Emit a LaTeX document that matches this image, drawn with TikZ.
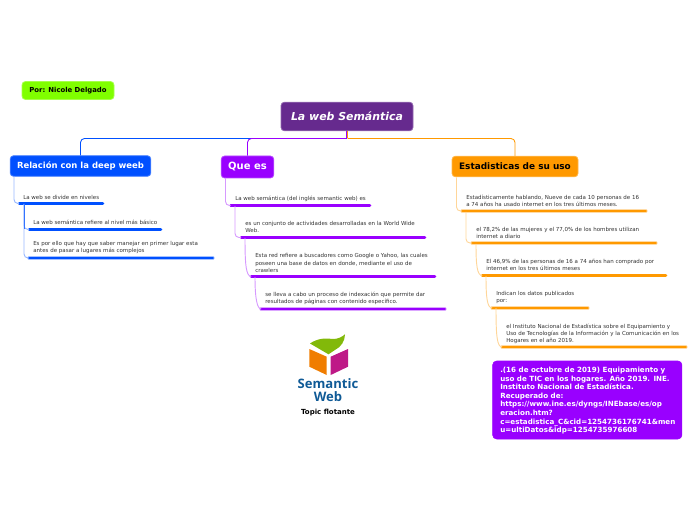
\documentclass[tikz,border=0pt]{standalone}
\usepackage{fontspec}
\setmainfont{DejaVu Sans}
\newfontfamily\logofont{Open Sans}
\definecolor{cRoot}{HTML}{662A8E}
\definecolor{cBlue}{HTML}{0050FF}
\definecolor{cPurple}{HTML}{9900FF}
\definecolor{cOrange}{HTML}{FF9900}
\definecolor{cGreen}{HTML}{80FF00}
\definecolor{cTxt}{HTML}{333333}
\tikzset{
  topicbox/.style={draw=#1!70!white,fill=#1,line width=0.6pt,rounded corners=2.6pt,inner sep=0pt,font=\bfseries},
  smalltext/.style={anchor=west,inner sep=0pt,align=left,text=cTxt,font=\fontsize{4.13}{5.3}\selectfont},
  branch/.style={draw=#1,line width=0.65pt,rounded corners=3pt},
  sublink/.style={draw=#1!40!white,line width=0.7pt,rounded corners=3pt},
  bar/.style={draw=#1,line width=2pt,line cap=round},
  barhalo/.style={draw=#1!35!white,line width=2.7pt,line cap=round},
}
\newcommand{\subbar}[5]{% name x1 x2 y colour
  \coordinate (#1a) at (#2+1.2,#4); \coordinate (#1b) at (#3-1.2,#4);
  \draw[barhalo=#5] (#1a) -- (#1b);
  \draw[bar=#5] (#1a) -- (#1b);}
\begin{document}
\begin{tikzpicture}[x=0.75pt,y=-0.75pt]
\useasboundingbox (0,0) rectangle (696,520);
% main boxes
\node[topicbox=cRoot,minimum width=99pt,minimum height=21.5pt,text=white,font=\fontsize{8.2}{10}\bfseries\itshape\selectfont] (root) at (347,116.5) {La web Semántica};
\node[topicbox=cBlue,minimum width=105.5pt,minimum height=15.5pt,text=white,font=\fontsize{6.35}{8}\bfseries\selectfont] (blue) at (80.5,166) {Relación con la deep weeb};
\node[topicbox=cPurple,minimum width=39.5pt,minimum height=16.5pt,text=white,font=\fontsize{7.5}{9}\bfseries\selectfont] (purple) at (247.5,167) {Que es};
\node[topicbox=cOrange,minimum width=94.5pt,minimum height=15.5pt,text=black,font=\fontsize{6.7}{8}\bfseries\selectfont] (orange) at (515,166.5) {Estadisticas de su uso};
\node[topicbox=cGreen,minimum width=69pt,minimum height=13.5pt,text=black,font=\fontsize{5.15}{6}\bfseries\selectfont] (author) at (68,90.5) {Por: Nicole Delgado};
\node[draw=cPurple,fill=cPurple,line width=0.4pt,rounded corners=3pt,minimum width=142pt,minimum height=58.5pt,inner sep=0pt] (note) at (587.3,400) {};
\node[anchor=north west,inner sep=0pt,align=left,text=white,font=\fontsize{5.35}{6.43}\bfseries\selectfont] (notetext) at (500,367) {.(16 de octubre de 2019) Equipamiento y\\uso de TIC en los hogares. Año 2019. INE.\\Instituto Nacional de Estadística.\\Recuperado de:\\https://www.ine.es/dyngs/INEbase/es/op\\eracion.htm?\\c=estadistica\_C\&cid=1254736176741\&men\\u=ultiDatos\&idp=1254735976608};
% root branches
\coordinate (hub) at (347,138.5);
\coordinate (hubp) at (346.6,138.5);
\coordinate (hubo) at (347.6,138.5);
\draw[branch=cBlue] (hub) -| (blue.north);
\draw[branch=cPurple] (hubp) -| (purple.north);
\draw[branch=cOrange] (hubo) -| (orange.north);
\draw[branch=cPurple] (root.south -| hubp) -- (hubp);
\draw[branch=cOrange] (root.south -| hubo) -- (hubo);
% blue
\subbar{ba}{18}{104}{203.5}{cBlue}
\subbar{bb}{28}{162}{229.5}{cBlue}
\subbar{bc}{28}{214}{258}{cBlue}
\coordinate (bs) at (14,176.5);
\draw[sublink=cBlue] (bs) |- (baa);
\coordinate (bt) at (24,204);
\draw[sublink=cBlue] (bt) |- (bba);
\draw[sublink=cBlue] (bt) |- (bca);
\draw[draw=cBlue!80!white,line width=0.7pt] (bt) -- (24,229.5);
\node[smalltext] (bt1) at (23,197) {La web se divide en niveles};
\node[smalltext] (bt2) at (33,222) {La web semántica refiere al nivel más básico};
\node[smalltext] (bt3) at (33,247.5) {Es por ello que hay que saber manejar en primer lugar esta\\antes de pasar a lugares más complejos};
% purple
\subbar{pa}{229.5}{371}{205.5}{cPurple}
\subbar{pb}{240}{426}{237.5}{cPurple}
\subbar{pc}{250}{436}{276.5}{cPurple}
\subbar{pd}{260}{446}{309}{cPurple}
\coordinate (ps) at (225.5,178);
\coordinate (pt) at (235,206);
\coordinate (pu) at (245,238);
\coordinate (pv) at (255,277);
\draw[sublink=cPurple] (ps) |- (paa);
\draw[sublink=cPurple] (pt) |- (pba);
\draw[sublink=cPurple] (pu) .. controls (245,265) and (246,276) .. (pca);
\draw[sublink=cPurple] (pv) .. controls (255,298) and (257,309) .. (pda);
\node[smalltext] (pt1) at (235,198.5) {La web semántica (del inglés semantic web) es};
\node[smalltext] (pt2) at (245,227) {es un conjunto de actividades desarrolladas en la World Wide\\Web.};
\node[smalltext] (pt3) at (255,263) {Esta red refiere a buscadores como Google o Yahoo, las cuales\\poseen una base de datos en donde, mediante el uso de\\crawlers};
\node[smalltext] (pt4) at (265,298) {se lleva a cabo un proceso de indexación que permite dar\\resultados de páginas con contenido específico.};
% orange
\subbar{oa}{461}{647}{211}{cOrange}
\subbar{ob}{471}{657}{243}{cOrange}
\subbar{oc}{481}{667}{275.5}{cOrange}
\subbar{od}{491}{589}{308}{cOrange}
\subbar{oe}{501}{687}{347}{cOrange}
\coordinate (os) at (456.5,177.5);
\coordinate (ot) at (466,212);
\coordinate (ou) at (476,244);
\coordinate (ov) at (486,276);
\coordinate (ow) at (496,308);
\draw[sublink=cOrange] (os) |- (oaa);
\draw[sublink=cOrange] (ot) |- (oba);
\draw[sublink=cOrange] (ou) .. controls (476,265) and (477,275.5) .. (oca);
\draw[sublink=cOrange] (ov) .. controls (486,297) and (487,308) .. (oda);
\draw[sublink=cOrange] (ow) .. controls (496,336) and (497,347) .. (oea);
\node[smalltext] (ot1) at (466,200.5) {Estadísticamente hablando, Nueve de cada 10 personas de 16\\a 74 años ha usado internet en los tres últimos meses.};
\node[smalltext] (ot2) at (476,232.5) {el 78,2\% de las mujeres y el 77,0\% de los hombres utilizan\\internet a diario};
\node[smalltext] (ot3) at (486,265) {El 46,9\% de las personas de 16 a 74 años han comprado por\\internet en los tres últimos meses};
\node[smalltext] (ot4) at (496,297.5) {Indican los datos publicados\\por:};
\node[smalltext] (ot5) at (506,333.5) {el Instituto Nacional de Estadística sobre el Equipamiento y\\Uso de Tecnologías de la Información y la Comunicación en los\\Hogares en el año 2019.};
% floating logo
\fill[color={rgb,255:red,130;green,185;blue,10}] (310,343.5) .. controls (318,338) and (326,338) .. (333,339) .. controls (338,339) and (342,337) .. (345,334.3) .. controls (345,341) and (341,347) .. (335,350) -- (328.5,354.3) -- cycle;
\fill[color={rgb,255:red,240;green,125;blue,0}] (309.3,349) -- (326.7,356.7) -- (326.7,375) -- (309.3,366.7) -- cycle;
\fill[color={rgb,255:red,190;green,25;blue,135}] (330.7,356.7) -- (348,349) -- (348,366.7) -- (330.7,375) -- cycle;
\node[inner sep=0pt,text={rgb,255:red,15;green,90;blue,150},align=center,font=\logofont\fontsize{9.8}{9.7}\bfseries\selectfont] (logotext) at (328,390.5) {Semantic\\Web};
\node[inner sep=0pt,text=black,font=\fontsize{5.25}{6}\bfseries\selectfont] (floating) at (328,412.5) {Topic flotante};
\end{tikzpicture}
\end{document}
